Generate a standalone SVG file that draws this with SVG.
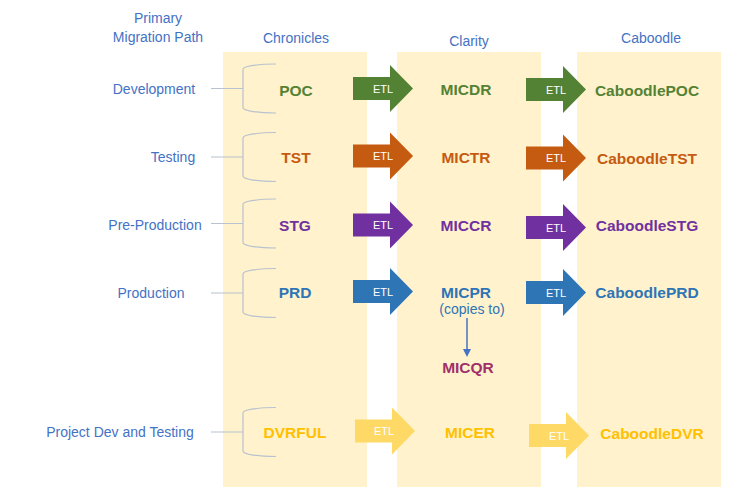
<svg xmlns="http://www.w3.org/2000/svg" xmlns:xlink="http://www.w3.org/1999/xlink" width="740" height="502" viewBox="0 0 740 502">
<style>
.bg{fill:#FFF2CC}
.hdr{font-family:"Liberation Sans",Arial,sans-serif;font-size:14px;fill:#4472C4;text-anchor:middle}
.lbl{font-family:"Liberation Sans",Arial,sans-serif;font-size:14px;fill:#4472C4;text-anchor:middle}
.nm{font-family:"Liberation Sans",Arial,sans-serif;font-size:15.5px;font-weight:bold;text-anchor:middle}
.etl{font-family:"Liberation Sans",Arial,sans-serif;font-size:11px;fill:#FFFFFF;text-anchor:middle}
.br{fill:none;stroke:#B8C2D0;stroke-width:1.2}
.g{fill:#548235}.o{fill:#C55A11}.p{fill:#7030A0}.b{fill:#2E75B6}.y{fill:#FFC000}.ya{fill:#FFD966}.m{fill:#A0306A}
</style>
<defs>
<path id="arr" d="M0,-11.5 H37 V-23.5 L60,0 L37,23.5 V11.5 H0 Z"/>
<path id="brace" d="M33,-24.5 C16,-24.5 0,-22.5 0,-19 L0,19 C0,22.5 16,24.5 33,24.5 M0,0 H-32"/>
<marker id="ah" markerWidth="8" markerHeight="8" refX="4" refY="4" orient="auto" markerUnits="userSpaceOnUse"><path d="M0,0 L8,4 L0,8 Z" fill="#4472C4"/></marker>
</defs>
<g id="columns">
<rect class="bg" x="223" y="52" width="144" height="435"/>
<rect class="bg" x="397" y="52" width="144" height="435"/>
<rect class="bg" x="577" y="52" width="144" height="435"/>
</g>
<g id="headers">
<text class="hdr" x="158" y="23">Primary</text>
<text class="hdr" x="158" y="42">Migration Path</text>
<text class="hdr" x="296" y="43">Chronicles</text>
<text class="hdr" x="469" y="46">Clarity</text>
<text class="hdr" x="651" y="43">Caboodle</text>
</g>
<g id="connectors">
<use href="#brace" xlink:href="#brace" class="br" transform="translate(243,88.5)"/>
<use href="#brace" xlink:href="#brace" class="br" transform="translate(243,157)"/>
<use href="#brace" xlink:href="#brace" class="br" transform="translate(243,223.5)"/>
<use href="#brace" xlink:href="#brace" class="br" transform="translate(243,293)"/>
<use href="#brace" xlink:href="#brace" class="br" transform="translate(243,432)"/>
<g>
<use href="#arr" xlink:href="#arr" class="g" transform="translate(353,88.5)"/>
<use href="#arr" xlink:href="#arr" class="g" transform="translate(526,89.5)"/>
<use href="#arr" xlink:href="#arr" class="o" transform="translate(353,156)"/>
<use href="#arr" xlink:href="#arr" class="o" transform="translate(526,158)"/>
<use href="#arr" xlink:href="#arr" class="p" transform="translate(353,225)"/>
<use href="#arr" xlink:href="#arr" class="p" transform="translate(526,227.5)"/>
<use href="#arr" xlink:href="#arr" class="b" transform="translate(353,291.5)"/>
<use href="#arr" xlink:href="#arr" class="b" transform="translate(526,292.5)"/>
<use href="#arr" xlink:href="#arr" class="ya" transform="translate(355,431)"/>
<use href="#arr" xlink:href="#arr" class="ya" transform="translate(529,435.5)"/>
</g>
<g>
<text class="etl" x="383" y="93">ETL</text>
<text class="etl" x="556" y="94">ETL</text>
<text class="etl" x="383" y="160">ETL</text>
<text class="etl" x="556" y="162">ETL</text>
<text class="etl" x="383" y="229">ETL</text>
<text class="etl" x="556" y="231.5">ETL</text>
<text class="etl" x="383" y="295.5">ETL</text>
<text class="etl" x="556" y="296.5">ETL</text>
<text class="etl" x="384" y="435">ETL</text>
<text class="etl" x="559" y="439.5">ETL</text>
</g>
<line x1="467" y1="318" x2="467" y2="353" stroke="#4472C4" stroke-width="1.5" marker-end="url(#ah)"/>
</g>
<g id="row-development">
<text class="lbl" x="154" y="94">Development</text>
<text class="nm g" x="296" y="95.5">POC</text>
<text class="nm g" x="466" y="95">MICDR</text>
<text class="nm g" x="647" y="96">CaboodlePOC</text>
</g>
<g id="row-testing">
<text class="lbl" x="173" y="162">Testing</text>
<text class="nm o" x="296" y="163">TST</text>
<text class="nm o" x="466" y="163">MICTR</text>
<text class="nm o" x="647" y="163.5">CaboodleTST</text>
</g>
<g id="row-preproduction">
<text class="lbl" x="155" y="230">Pre-Production</text>
<text class="nm p" x="295" y="230.5">STG</text>
<text class="nm p" x="466" y="230.5">MICCR</text>
<text class="nm p" x="647" y="231">CaboodleSTG</text>
</g>
<g id="row-production">
<text class="lbl" x="151" y="298">Production</text>
<text class="nm b" x="295" y="298">PRD</text>
<text class="nm b" x="466" y="298">MICPR</text>
<text class="lbl" x="472" y="314" style="fill:#2E75B6">(copies to)</text>
<text class="nm b" x="647" y="298">CaboodlePRD</text>
</g>
<g id="node-micqr">
<text class="nm m" x="468" y="373">MICQR</text>
</g>
<g id="row-project">
<text class="lbl" x="120" y="437">Project Dev and Testing</text>
<text class="nm y" x="295" y="437.5">DVRFUL</text>
<text class="nm y" x="470" y="438">MICER</text>
<text class="nm y" x="652" y="438.5">CaboodleDVR</text>
</g>
</svg>
